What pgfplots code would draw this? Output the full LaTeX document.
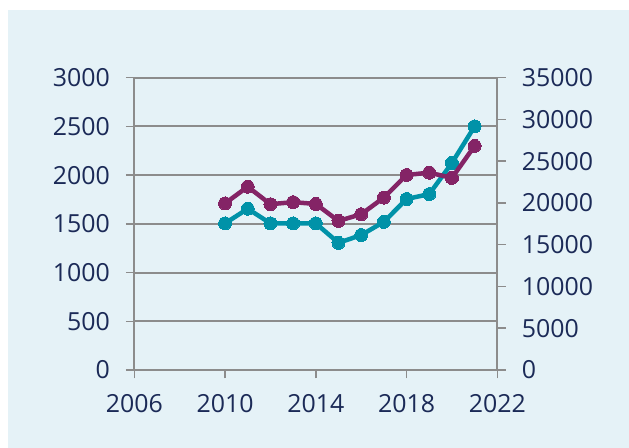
\documentclass[border=0pt]{standalone}
\usepackage{fontspec}
\setmainfont{Open Sans}
\usepackage{pgfplots}
\pgfplotsset{compat=1.18}
\definecolor{bgblue}{HTML}{E5F2F7}
\definecolor{tealc}{HTML}{0092A8}
\definecolor{purplec}{HTML}{842466}
\definecolor{navy}{HTML}{1B2A57}
\definecolor{gridg}{HTML}{8C8C8C}

\pgfplotsset{
  common/.style={
    scale only axis, width=363bp, height=292.3bp,
    at={(134.3bp,78bp)}, anchor=south west,
    xmin=2006, xmax=2022,
    tick align=outside, major tick length=8.5bp,
    tick style={gridg, line width=1.5bp},
    axis line style={gridg, line width=2bp},
    ticklabel style={font=\fontsize{25}{30}\selectfont, text=navy},
    /pgf/number format/1000 sep={},
    /pgf/number format/assume math mode=true,
    scaled y ticks=false,
    clip=false,
  },
  series/.style={line width=4.5bp, mark=*, mark size=6.5bp, mark options={solid, line width=0pt}},
}

\begin{document}
\begin{tikzpicture}
\path[use as bounding box] (0,0) rectangle (629bp,448bp);
\fill[bgblue] (8bp,0) rectangle (629bp,438bp);

\begin{axis}[common,
  axis x line*=bottom, axis y line*=left,
  ymin=0, ymax=3000, ytick={0,500,...,3000},
  xtick={2006,2010,2014,2018,2022},
  yticklabel style={xshift=-12.5bp},
  xticklabel style={yshift=-12bp},
  ymajorgrids, grid style={gridg, line width=2bp},
]
\addplot[series, color=tealc] coordinates {
  (2010,1505) (2011,1655) (2012,1505) (2013,1505) (2014,1505) (2015,1305)
  (2016,1385) (2017,1520) (2018,1755) (2019,1805) (2020,2125) (2021,2500)
};
\end{axis}

\begin{axis}[common,
  axis x line=none, axis y line*=right,
  ymin=0, ymax=35000, ytick={0,5000,...,35000},
  yticklabel style={xshift=12.5bp},
]
\addplot[series, color=purplec] coordinates {
  (2010,19950) (2011,21950) (2012,19850) (2013,20100) (2014,19880) (2015,17850)
  (2016,18650) (2017,20650) (2018,23350) (2019,23630) (2020,23000) (2021,26830)
};
\end{axis}
\end{tikzpicture}
\end{document}
